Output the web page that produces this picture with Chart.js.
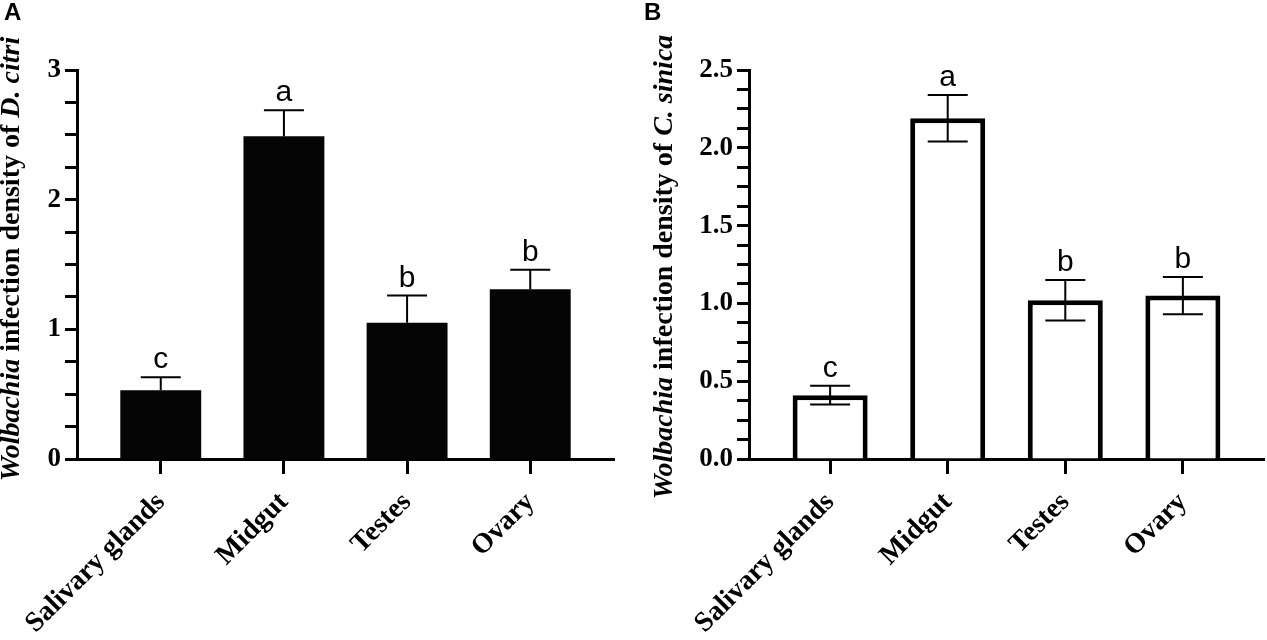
<!DOCTYPE html>
<html>
<head>
<meta charset="utf-8">
<script src="https://cdn.jsdelivr.net/npm/chart.js@4.4.1/dist/chart.umd.min.js"></script>
<style>
  html, body { margin: 0; padding: 0; background: #fff; }
  .panel { position: absolute; top: 0; height: 640px; }
  #panelA { left: 0; width: 640px; }
  #panelB { left: 640px; width: 627px; }
</style>
</head>
<body>
<div class="panel" id="panelA"><canvas id="chartA"></canvas></div>
<div class="panel" id="panelB"><canvas id="chartB"></canvas></div>
<script>
const categories = ['Salivary glands', 'Midgut', 'Testes', 'Ovary'];

// panel A - D. citri
const densityCitri = [0.53, 2.49, 1.05, 1.31];
const sdCitri = [0.10, 0.20, 0.21, 0.15];
const lettersCitri = ['c', 'a', 'b', 'b'];
const tickLabelsCitri = [0, 1, 2, 3];

// panel B - C. sinica
const densitySinica = [0.41, 2.19, 1.02, 1.05];
const sdSinica = [0.06, 0.15, 0.13, 0.12];
const lettersSinica = ['c', 'a', 'b', 'b'];
const tickLabelsSinica = [0, 0.5, 1.0, 1.5, 2.0, 2.5];

const serif = "'Liberation Serif', 'Times New Roman', serif";
const sans = "'Liberation Sans', Arial, sans-serif";

// error bars, significance letters, panel letter and mixed-style y title
const extras = {
  id: 'extras',
  afterDraw(chart, args, opts) {
    const ctx = chart.ctx;
    const xs = chart.scales.x;
    const ys = chart.scales.y;
    ctx.save();
    ctx.strokeStyle = '#000';
    ctx.fillStyle = '#000';
    ctx.lineWidth = 2;
    opts.means.forEach((m, i) => {
      const x = xs.getPixelForValue(i);
      const top = ys.getPixelForValue(m + opts.sd[i]);
      const bot = opts.lowerCap ? ys.getPixelForValue(m - opts.sd[i]) : ys.getPixelForValue(m);
      ctx.beginPath();
      ctx.moveTo(x, bot);
      ctx.lineTo(x, top);
      ctx.moveTo(x - 20, top);
      ctx.lineTo(x + 20, top);
      if (opts.lowerCap) {
        ctx.moveTo(x - 20, bot);
        ctx.lineTo(x + 20, bot);
      }
      ctx.stroke();
      ctx.font = '30px ' + sans;
      ctx.textAlign = 'center';
      ctx.textBaseline = 'alphabetic';
      ctx.fillText(opts.letters[i], x, top - 9);
    });

    ctx.font = 'bold 24px ' + sans;
    ctx.textAlign = 'left';
    ctx.textBaseline = 'top';
    ctx.fillText(opts.panel, 4, 1);

    // rotated y title
    const parts = opts.title;
    ctx.translate(opts.titleX, opts.titleY);
    ctx.rotate(-Math.PI / 2);
    ctx.textBaseline = 'middle';
    let total = 0;
    parts.forEach(p => {
      ctx.font = (p[1] ? 'italic ' : '') + 'bold 28px ' + serif;
      total += ctx.measureText(p[0]).width;
    });
    let pos = -total / 2;
    parts.forEach(p => {
      ctx.font = (p[1] ? 'italic ' : '') + 'bold 28px ' + serif;
      ctx.fillText(p[0], pos, 0);
      pos += ctx.measureText(p[0]).width;
    });
    ctx.restore();
  }
};

function makeChart(id, means, sd, letters, tickLabels, cfg) {
  return new Chart(document.getElementById(id), {
    type: 'bar',
    data: {
      datasets: [{
        data: means.map((v, i) => ({ x: i, y: v })),
        backgroundColor: cfg.fill,
        borderColor: '#000',
        borderWidth: cfg.border,
        barPercentage: cfg.barPct,
        categoryPercentage: 1
      }]
    },
    options: {
      responsive: true,
      maintainAspectRatio: false,
      animation: false,
      layout: { padding: { top: 70, right: cfg.right, left: 0, bottom: 0 } },
      plugins: {
        legend: { display: false },
        tooltip: { enabled: false },
        extras: {
          means: means, sd: sd, letters: letters, panel: cfg.panel,
          title: cfg.title, titleX: cfg.titleX, titleY: cfg.titleY, lowerCap: cfg.lowerCap
        }
      },
      scales: {
        x: {
          type: 'linear',
          offset: false,
          z: 1,
          min: -cfg.gap,
          max: categories.length - 1 + cfg.gap,
          afterBuildTicks: (scale) => {
            scale.ticks = categories.map((c, i) => ({ value: i }));
          },
          afterFit: (scale) => { scale.height = 181; },
          ticks: {
            autoSkip: false,
            minRotation: 45,
            maxRotation: 45,
            padding: 12,
            color: '#000',
            font: { family: serif, size: 28, weight: 'bold' },
            callback: (v) => categories[v]
          },
          grid: {
            offset: false,
            drawOnChartArea: false,
            tickLength: 15,
            tickWidth: 3,
            tickColor: '#000'
          },
          border: { display: true, width: 3, color: '#000' }
        },
        y: {
          z: 1,
          min: 0,
          max: cfg.max,
          afterFit: (scale) => { scale.width = cfg.axisX; },
          ticks: {
            stepSize: cfg.step,
            autoSkip: false,
            padding: 4,
            color: '#000',
            font: { family: serif, size: 27, weight: 'bold' },
            callback: (v) => tickLabels.includes(v) ? v.toFixed(cfg.decimals) : ''
          },
          grid: {
            drawOnChartArea: false,
            tickLength: 12,
            tickWidth: 3,
            tickColor: '#000'
          },
          border: { display: true, width: 3, color: '#000' }
        }
      }
    },
    plugins: [extras]
  });
}

window.addEventListener('load', function () {
  makeChart('chartA', densityCitri, sdCitri, lettersCitri, tickLabelsCitri, {
    panel: 'A', fill: '#050505', border: 0, barPct: 0.657, gap: 0.68,
    right: 26, axisX: 77, max: 3, step: 0.25, decimals: 0, lowerCap: false,
    titleX: 12, titleY: 259,
    title: [['Wolbachia', true], [' infection density of ', false], ['D. citri', true]]
  });
  makeChart('chartB', densitySinica, sdSinica, lettersSinica, tickLabelsSinica, {
    panel: 'B', fill: '#ffffff', border: 5, barPct: 0.638, gap: 0.69,
    right: 3, axisX: 109, max: 2.5, step: 0.125, decimals: 1, lowerCap: true,
    titleX: 25, titleY: 267,
    title: [['Wolbachia', true], [' infection density of ', false], ['C. sinica', true]]
  });
});
</script>
</body>
</html>
